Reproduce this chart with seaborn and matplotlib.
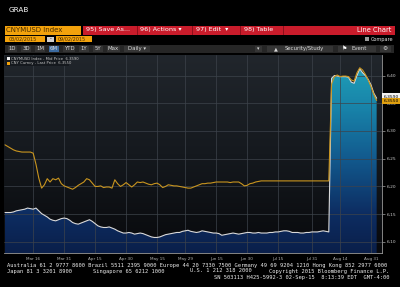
import numpy as np
import pandas as pd
import matplotlib
matplotlib.use("Agg")
import matplotlib.pyplot as plt
import seaborn as sns
from matplotlib.colors import LinearSegmentedColormap
from matplotlib.patches import Rectangle, PathPatch
from matplotlib.transforms import blended_transform_factory

# ---------------- data ----------------
start_date = "2015-03-02"
end_date = "2015-09-02"

mid_price = [
    6.153, 6.153, 6.153, 6.154, 6.156, 6.157, 6.158, 6.159, 6.161, 6.160,
    6.159, 6.161, 6.156, 6.151, 6.148, 6.145, 6.141, 6.139, 6.138, 6.140,
    6.142, 6.143, 6.142, 6.139, 6.135, 6.133, 6.132, 6.134, 6.136, 6.138,
    6.140, 6.137, 6.133, 6.129, 6.127, 6.126, 6.126, 6.127, 6.125, 6.123,
    6.120, 6.118, 6.116, 6.116, 6.117, 6.116, 6.114, 6.115, 6.116, 6.115,
    6.113, 6.111, 6.109, 6.108, 6.108, 6.109, 6.111, 6.113, 6.114, 6.115,
    6.116, 6.117, 6.117, 6.119, 6.120, 6.121, 6.119, 6.118, 6.117, 6.118,
    6.120, 6.119, 6.118, 6.117, 6.116, 6.116, 6.115, 6.112, 6.113, 6.114,
    6.115, 6.116, 6.115, 6.114, 6.115, 6.116, 6.117, 6.117, 6.116, 6.116,
    6.117, 6.116, 6.116, 6.116, 6.117, 6.117, 6.118, 6.118, 6.119, 6.120,
    6.120, 6.119, 6.117, 6.117, 6.117, 6.116, 6.116, 6.117, 6.117, 6.118,
    6.118, 6.118, 6.119, 6.120, 6.119, 6.118,
    6.395, 6.400, 6.399, 6.398, 6.398, 6.398, 6.397, 6.388, 6.386, 6.400,
    6.412, 6.405, 6.400, 6.393, 6.383, 6.368, 6.359,
]

last_price = [
    6.275, 6.272, 6.269, 6.266, 6.264, 6.263, 6.262, 6.262, 6.262, 6.262,
    6.260, 6.240, 6.215, 6.197, 6.203, 6.214, 6.208, 6.214, 6.212, 6.215,
    6.205, 6.201, 6.199, 6.197, 6.195, 6.198, 6.202, 6.205, 6.208, 6.214,
    6.212, 6.206, 6.200, 6.200, 6.201, 6.198, 6.199, 6.199, 6.197, 6.212,
    6.205, 6.200, 6.203, 6.207, 6.203, 6.199, 6.203, 6.208, 6.207, 6.208,
    6.206, 6.204, 6.203, 6.205, 6.206, 6.203, 6.198, 6.200, 6.203, 6.202,
    6.201, 6.201, 6.200, 6.199, 6.198, 6.197, 6.197, 6.199, 6.201, 6.203,
    6.205, 6.205, 6.206, 6.206, 6.207, 6.208, 6.208, 6.208, 6.208, 6.208,
    6.207, 6.208, 6.208, 6.208, 6.205, 6.201, 6.202, 6.205, 6.206, 6.208,
    6.209, 6.210, 6.210, 6.210, 6.210, 6.210, 6.210, 6.210, 6.210, 6.210,
    6.210, 6.210, 6.210, 6.210, 6.210, 6.210, 6.210, 6.210, 6.210, 6.210,
    6.210, 6.210, 6.210, 6.210, 6.210, 6.210,
    6.385, 6.398, 6.401, 6.398, 6.399, 6.399, 6.398, 6.392, 6.390, 6.405,
    6.414, 6.410, 6.402, 6.392, 6.380, 6.366, 6.355,
]

tick_dates = ["2015-03-16", "2015-03-31", "2015-04-15", "2015-04-30",
              "2015-05-15", "2015-05-29", "2015-06-15", "2015-06-30",
              "2015-07-15", "2015-07-31", "2015-08-14", "2015-08-31"]
tick_labels = ["Mar 16", "Mar 31", "Apr 15", "Apr 30", "May 15", "May 29",
               "Jun 15", "Jun 30", "Jul 15", "Jul 31", "Aug 14", "Aug 31"]
y_ticks = [6.10, 6.15, 6.20, 6.25, 6.30, 6.35, 6.40]
y_tick_labels = ["6.10", "6.15", "6.20", "6.25", "6.30", "6.35", "6.40"]

mid_name = "CNYMUSD Index - Mid Price"
last_name = "CNY Curncy - Last Price"

# ---------------- frame ----------------
dates = pd.bdate_range(start_date, end_date)
df = pd.DataFrame({"date": dates, "pos": np.arange(len(dates)),
                   "mid": mid_price, "last": last_price})
pos_of = {d: i for i, d in enumerate(dates)}
tick_pos = [pos_of[pd.Timestamp(d)] for d in tick_dates]

sns.set_theme(style="dark")
plt.rcParams["font.family"] = ["DejaVu Sans"]

W, H = 400, 287
fig = plt.figure(figsize=(W / 100, H / 100), dpi=100, facecolor="black")


def fx(x):
    return x / W


def fy(y):
    return 1 - y / H


def rect(x0, y0, x1, y1, color, z=1):
    fig.patches.append(Rectangle((fx(x0), fy(y1)), (x1 - x0) / W, (y1 - y0) / H,
                                 transform=fig.transFigure, facecolor=color,
                                 edgecolor="none", zorder=z))


def txt(x, y, s, size, color="white", ha="left", family="DejaVu Sans", **kw):
    return fig.text(fx(x), fy(y), s, fontsize=size, color=color, ha=ha, va="center",
                    family=family, zorder=5, **kw)


# header
txt(9, 9.5, "GRAB", 5.2, "white")
rect(5, 25.5, 81, 34.5, "#f2a20c")
txt(6.5, 30, "CNYMUSD Index", 5.0, "#4a2c00")
rect(83, 25.5, 395, 34.5, "#c91c2b")
for sx in (137, 192, 240, 283):
    rect(sx, 25.5, sx + 1, 34.5, "#8e0f1a")
txt(86, 30, "95) Save As...", 4.6, "white")
txt(140, 30, "96) Actions \u25be", 4.6, "white")
txt(196, 30, "97) Edit  \u25be", 4.6, "white")
txt(244, 30, "98) Table", 4.6, "white")
txt(391, 30, "Line Chart", 4.8, "white", ha="right")

rect(5, 36, 45, 42, "#f2a20c")
txt(9, 39, "03/02/2015", 3.5, "#4a2c00")
rect(46.5, 36.5, 54, 41.5, "#d0d0d0")
txt(50.2, 39, "-", 3.5, "black", ha="center")
rect(56, 36, 92, 42, "#f2a20c")
txt(58, 39, "09/02/2015", 3.5, "#4a2c00")
rect(365, 37.5, 369, 41, "#9a9a9a")
txt(371, 39.2, "Compare", 3.6, "#e0e0e0")

rect(5, 44.5, 394, 53, "#262626")
buttons = [("1D", 8, 17), ("3D", 21, 31), ("1M", 35, 45), ("6M", 49, 59),
           ("YTD", 63, 75), ("1Y", 79, 89), ("5Y", 93, 103), ("Max", 107, 120),
           ("Daily \u25be", 124, 150)]
for lab, a, b in buttons:
    rect(a, 45.5, b, 52, "#3b6aa0" if lab == "6M" else "#353535")
    txt((a + b) / 2, 48.8, lab, 3.9, "#d8d8d8", ha="center")
rect(255, 45.5, 262, 52, "#353535")
txt(258.5, 48.8, "\u25be", 3.5, "#d8d8d8", ha="center")
rect(267, 45.5, 333, 52, "#353535")
txt(276, 48.8, "\u25b2", 3.6, "#d8d8d8", ha="center")
txt(285, 48.8, "Security/Study", 3.9, "#d8d8d8")
rect(338, 45.5, 376, 52, "#353535")
txt(345, 48.8, "\u2691", 4.2, "#ffffff", ha="center")
txt(352, 48.8, "Event", 3.9, "#d8d8d8")
rect(380, 45.5, 391, 52, "#353535")
txt(385.5, 48.8, "\u2699", 4.2, "#d8d8d8", ha="center")

# footer
mono = "DejaVu Sans Mono"
txt(7, 265, "Australia 61 2 9777 8600 Brazil 5511 2395 9000 Europe 44 20 7330 7500 "
    "Germany 49 69 9204 1210 Hong Kong 852 2977 6000", 3.9, "#eeeeee", family=mono)
txt(7, 271, "Japan 81 3 3201 8900", 3.9, "#eeeeee", family=mono)
txt(93, 271, "Singapore 65 6212 1000", 3.9, "#eeeeee", family=mono)
txt(190, 271, "U.S. 1 212 318 2000", 3.9, "#eeeeee", family=mono)
txt(389, 271, "Copyright 2015 Bloomberg Finance L.P.", 3.9, "#eeeeee", ha="right", family=mono)
txt(389, 277, "SN 503113 H425-5992-3 02-Sep-15  8:13:39 EDT  GMT-4:00", 3.9, "#eeeeee",
    ha="right", family=mono)

# ---------------- chart ----------------
ax_l, ax_r, ax_t, ax_b = 4, 382, 55, 253
ax = fig.add_axes([fx(ax_l), fy(ax_b), (ax_r - ax_l) / W, (ax_b - ax_t) / H])
ymin, ymax = 6.080, 6.437
xmin, xmax = -0.36, 133.9
ax.set_xlim(xmin, xmax)
ax.set_ylim(ymin, ymax)

bg = LinearSegmentedColormap.from_list("bg", ["#08090c", "#15191e", "#21262c"])
grad = np.linspace(0, 1, 256).reshape(-1, 1)
ax.imshow(grad, extent=[xmin, xmax, ymin, ymax], origin="lower", aspect="auto",
          cmap=bg, zorder=0)

area_cmap = LinearSegmentedColormap.from_list(
    "area", [(0.0, "#0a1f4a"), (0.2, "#0d2d62"), (0.48, "#125a8e"),
             (0.72, "#1881a8"), (1.0, "#20a6bb")])
fill = ax.fill_between(df["pos"], df["mid"], ymin, color="none", lw=0)
clip = PathPatch(fill.get_paths()[0], transform=ax.transData,
                 facecolor="none", edgecolor="none")
ax.add_patch(clip)
im = ax.imshow(grad, extent=[xmin, xmax, ymin, ymax], origin="lower",
               aspect="auto", cmap=area_cmap, zorder=1)
im.set_clip_path(clip)

for t in tick_pos:
    ax.axvline(t, color="#3d434b", lw=0.5, zorder=2)
for v in y_ticks:
    ax.axhline(v, color="#3d434b", lw=0.5, zorder=2)

sns.lineplot(data=df, x="pos", y="mid", ax=ax, color="#d9d9d9", lw=0.8, zorder=3)
sns.lineplot(data=df, x="pos", y="last", ax=ax, color="#c9951f", lw=0.8, zorder=4)

ax.set_xlabel("")
ax.set_ylabel("")
ax.grid(False)
ax.set_facecolor("#14181d")
ax.set_xticks(tick_pos)
ax.set_xticklabels(tick_labels)
ax.yaxis.tick_right()
ax.set_yticks(y_ticks)
ax.set_yticklabels(y_tick_labels)
ax.tick_params(axis="x", labelsize=3.0, colors="#b5b5b5", length=1.5, width=0.4, pad=1.2)
ax.tick_params(axis="y", labelsize=3.2, colors="#c8c8c8", length=1.8, width=0.4, pad=1.5,
               right=True, left=False)
for side in ("left", "top"):
    ax.spines[side].set_visible(False)
for side in ("right", "bottom"):
    ax.spines[side].set_color("#9a9a9a")
    ax.spines[side].set_linewidth(0.6)

# last value tags
tr = blended_transform_factory(ax.transAxes, ax.transData)
ax.text(1.004, mid_price[-1] + 0.003, f"{mid_price[-1]:.4f}", transform=tr, fontsize=3.2,
        color="black", va="center", ha="left", zorder=6,
        bbox=dict(boxstyle="square,pad=0.25", fc="#f2f2f2", ec="none"))
ax.text(1.004, last_price[-1] - 0.0005, f"{last_price[-1]:.4f}", transform=tr, fontsize=3.2,
        color="black", va="center", ha="left", zorder=6,
        bbox=dict(boxstyle="square,pad=0.25", fc="#e0a010", ec="none"))

# legend (inside plot, top-left)
ax.add_patch(Rectangle((0.003, 0.942), 0.17, 0.052, transform=ax.transAxes,
                       facecolor="#15191e", edgecolor="none", zorder=5))
ax.add_patch(Rectangle((0.008, 0.975), 0.0066, 0.0126, transform=ax.transAxes,
                       facecolor="#f0f0f0", edgecolor="none", zorder=6))
ax.add_patch(Rectangle((0.008, 0.952), 0.0066, 0.0126, transform=ax.transAxes,
                       facecolor="#f2a20c", edgecolor="none", zorder=6))
ax.text(0.019, 0.981, f"{mid_name}  {mid_price[-1]:.4f}", transform=ax.transAxes,
        fontsize=2.7, color="#c8c8c8", va="center", zorder=7)
ax.text(0.019, 0.958, f"{last_name}  {last_price[-1]:.4f}", transform=ax.transAxes,
        fontsize=2.7, color="#c8c8c8", va="center", zorder=7)

fig.savefig("out.png", dpi=100, facecolor="black")
